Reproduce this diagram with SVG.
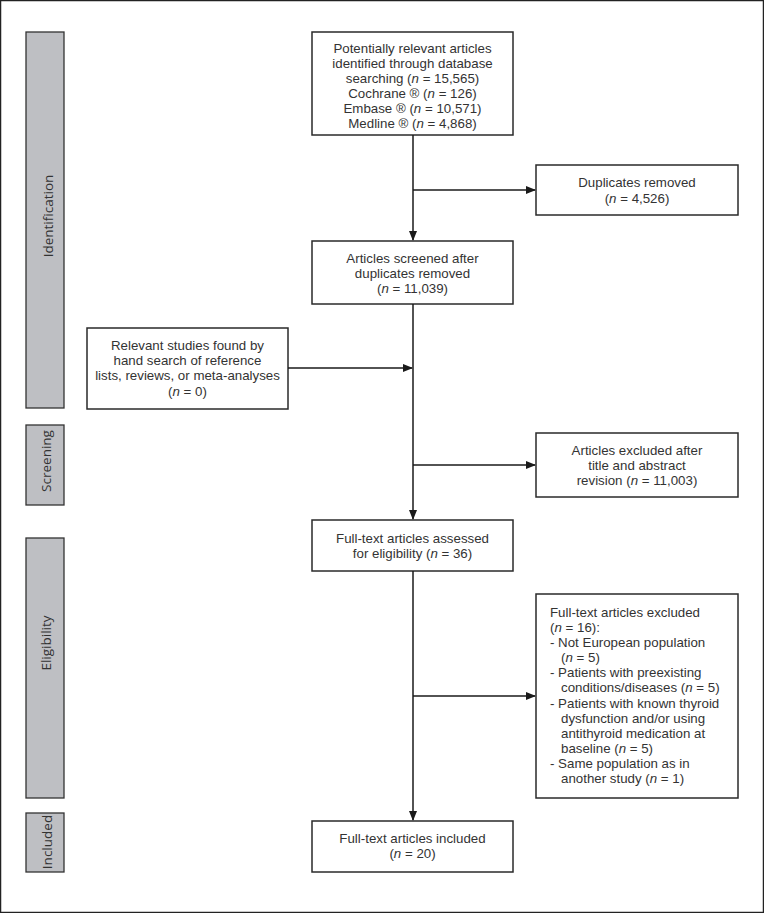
<svg xmlns="http://www.w3.org/2000/svg" width="764" height="913" viewBox="0 0 764 913">
<defs>
<marker id="arr" markerWidth="10" markerHeight="8" refX="9" refY="4" orient="auto" markerUnits="userSpaceOnUse">
<path d="M0,0 L10,4 L0,8 Z" fill="#1a1a1a"/>
</marker>
<style>
.box{fill:#fff;stroke:#2a2a2a;stroke-width:1.5}
.bar{fill:#bebfc3;stroke:#333;stroke-width:1.3}
.t{font-family:"Liberation Sans",Arial,sans-serif;font-size:13.3px;fill:#333}
.c{text-anchor:middle}
.i{font-style:italic}
.v{font-family:"Open Sans","Noto Sans","DejaVu Sans",sans-serif;font-size:13.5px;fill:#333;text-anchor:middle}
.ln{fill:none;stroke:#1a1a1a;stroke-width:1.5}
</style>
</defs>
<rect x="0.5" y="0.5" width="763" height="912" fill="#fff" stroke="#222" stroke-width="1.5"/>

<g id="stage-identification">
<rect class="bar" x="26" y="32" width="38" height="376"/>
<text class="v" transform="translate(53,216) rotate(-90)">Identification</text>
</g>
<g id="stage-screening">
<rect class="bar" x="26" y="425" width="38" height="80"/>
<text class="v" transform="translate(51,461) rotate(-90)">Screening</text>
</g>
<g id="stage-eligibility">
<rect class="bar" x="26" y="538" width="38" height="260"/>
<text class="v" transform="translate(51,643) rotate(-90)">Eligibility</text>
</g>
<g id="stage-included">
<rect class="bar" x="26" y="813" width="38" height="59"/>
<text class="v" transform="translate(52,842) rotate(-90)">Included</text>
</g>

<g id="identified">
<rect class="box" x="312" y="32" width="201" height="103"/>
<text class="t c"><tspan x="412.5" y="53">Potentially relevant articles</tspan><tspan x="412.5" dy="15">identified through database</tspan><tspan x="412.5" dy="15">searching (<tspan class="i">n</tspan> = 15,565)</tspan><tspan x="412.5" dy="15">Cochrane ® (<tspan class="i">n</tspan> = 126)</tspan><tspan x="412.5" dy="15">Embase ® (<tspan class="i">n</tspan> = 10,571)</tspan><tspan x="412.5" dy="15">Medline ® (<tspan class="i">n</tspan> = 4,868)</tspan></text>
</g>

<g id="duplicates">
<rect class="box" x="536" y="165" width="202" height="50"/>
<text class="t c"><tspan x="637" y="187">Duplicates removed</tspan><tspan x="637" dy="16">(<tspan class="i">n</tspan> = 4,526)</tspan></text>
</g>

<g id="screened">
<rect class="box" x="312" y="241" width="201" height="63"/>
<text class="t c"><tspan x="412.5" y="263">Articles screened after</tspan><tspan x="412.5" dy="15">duplicates removed</tspan><tspan x="412.5" dy="15">(<tspan class="i">n</tspan> = 11,039)</tspan></text>
</g>

<g id="hand-search">
<rect class="box" x="87" y="328" width="201" height="81"/>
<text class="t c"><tspan x="187.5" y="350">Relevant studies found by</tspan><tspan x="187.5" dy="15">hand search of reference</tspan><tspan x="187.5" dy="15">lists, reviews, or meta-analyses</tspan><tspan x="187.5" dy="15.5">(<tspan class="i">n</tspan> = 0)</tspan></text>
</g>

<g id="excluded-abstract">
<rect class="box" x="536" y="433" width="202" height="64"/>
<text class="t c"><tspan x="637" y="455">Articles excluded after</tspan><tspan x="637" dy="15">title and abstract</tspan><tspan x="637" dy="15">revision (<tspan class="i">n</tspan> = 11,003)</tspan></text>
</g>

<g id="assessed">
<rect class="box" x="312" y="520" width="201" height="51"/>
<text class="t c"><tspan x="412.5" y="543">Full-text articles assessed</tspan><tspan x="412.5" dy="15">for eligibility (<tspan class="i">n</tspan> = 36)</tspan></text>
</g>

<g id="excluded-fulltext">
<rect class="box" x="536" y="594" width="202" height="204"/>
<text class="t"><tspan x="550" y="617">Full-text articles excluded</tspan><tspan x="550" dy="15">(<tspan class="i">n</tspan> = 16):</tspan><tspan x="550" dy="15">- Not European population</tspan><tspan x="561" dy="15">(<tspan class="i">n</tspan> = 5)</tspan><tspan x="550" dy="15">- Patients with preexisting</tspan><tspan x="561" dy="15">conditions/diseases (<tspan class="i">n</tspan> = 5)</tspan><tspan x="550" dy="15.5">- Patients with known thyroid</tspan><tspan x="561" dy="15">dysfunction and/or using</tspan><tspan x="561" dy="15">antithyroid medication at</tspan><tspan x="561" dy="15">baseline (<tspan class="i">n</tspan> = 5)</tspan><tspan x="550" dy="15">- Same population as in</tspan><tspan x="561" dy="15">another study (<tspan class="i">n</tspan> = 1)</tspan></text>
</g>

<g id="included">
<rect class="box" x="312" y="821" width="201" height="51"/>
<text class="t c"><tspan x="412.5" y="843">Full-text articles included</tspan><tspan x="412.5" dy="15">(<tspan class="i">n</tspan> = 20)</tspan></text>
</g>

<g id="connectors">
<line class="ln" x1="413" y1="135" x2="413" y2="240" marker-end="url(#arr)"/>
<line class="ln" x1="413" y1="190" x2="535" y2="190" marker-end="url(#arr)"/>
<line class="ln" x1="413" y1="304" x2="413" y2="519" marker-end="url(#arr)"/>
<line class="ln" x1="288" y1="368" x2="412" y2="368" marker-end="url(#arr)"/>
<line class="ln" x1="413" y1="465" x2="535" y2="465" marker-end="url(#arr)"/>
<line class="ln" x1="413" y1="571" x2="413" y2="820" marker-end="url(#arr)"/>
<line class="ln" x1="413" y1="696" x2="535" y2="696" marker-end="url(#arr)"/>
</g>
</svg>
